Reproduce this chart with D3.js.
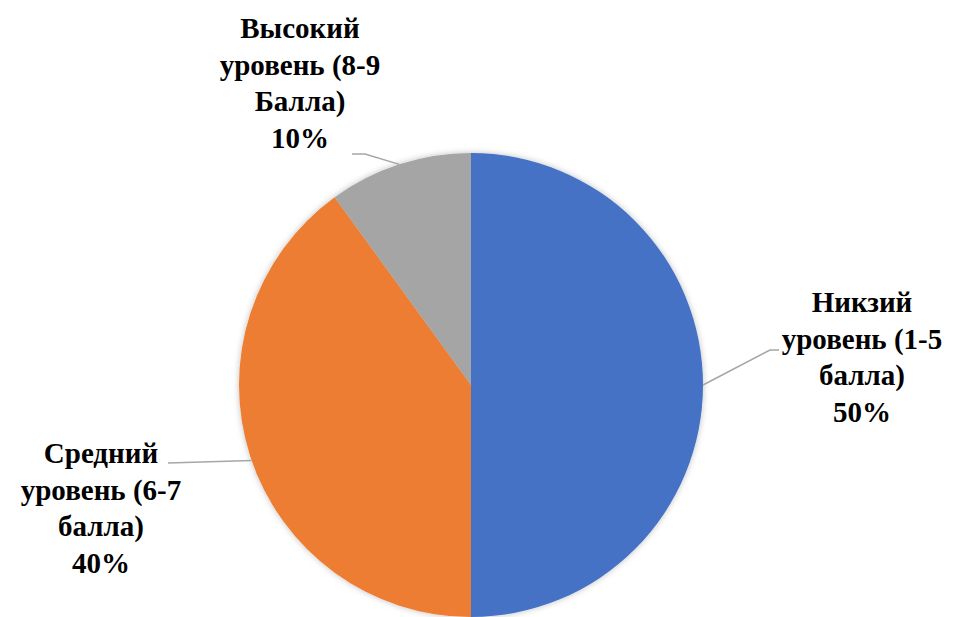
<!DOCTYPE html>
<html><head><meta charset="utf-8"></head><body style="margin:0">
<svg id="pie_chart" width="965" height="617"></svg>
<script src="https://cdn.jsdelivr.net/npm/d3@7"></script>
<script>

var sliceNames = ["Никзий уровень (1-5 балла)", "Средний уровень (6-7 балла)", "Высокий уровень (8-9 Балла)"];
var shares     = [50, 40, 10];
var labelRows  = [
  ["Никзий", "уровень (1-5", "балла)", "50%"],
  ["Средний", "уровень (6-7", "балла)", "40%"],
  ["Высокий", "уровень (8-9", "Балла)", "10%"]
];
var sliceColors = ["#4472c4", "#ed7d31", "#a5a5a5"];

var svg = d3.select("#pie_chart");
var cx = 471, cy = 385, r = 232;

// label placement (layout only): center x, first baseline, leader angle and elbow
var layout = [
  {x: 862, y: 312, ang: null, elbow: [770, 350], end: [779, 350]},
  {x: 101, y: 463, ang: 251 * Math.PI / 180, elbow: null, end: [168, 463]},
  {x: 300, y: 38,  ang: null, elbow: [365, 154], end: [352, 154]}
];
var lineH = 36.5;

// labels first
labelRows.forEach(function(rows, i){
  var L = layout[i];
  rows.forEach(function(s, k){
    svg.append("text")
      .attr("x", L.x)
      .attr("y", L.y + k * lineH)
      .attr("font-family", "'Liberation Serif'")
      .attr("font-weight", "bold")
      .attr("font-size", "29px")
      .attr("text-anchor", "middle")
      .text(s);
  });
});

var defs = svg.append("defs");
var f = defs.append("filter").attr("id", "shadow");
f.append("feDropShadow").attr("dx", 0).attr("dy", 0)
  .attr("stdDeviation", 3).attr("flood-opacity", 0.25);

var arcs = d3.pie().sort(null).value(function(d){ return d; })(shares);
var arc = d3.arc().innerRadius(0).outerRadius(r);

svg.append("g")
  .attr("transform", "translate(" + cx + "," + cy + ")")
  .attr("filter", "url(#shadow)")
  .selectAll("path")
  .data(arcs)
  .enter()
  .append("path")
  .attr("d", arc)
  .attr("fill", function(d, i){ return sliceColors[i]; });

arcs.forEach(function(a, i){
  var L = layout[i];
  var t = L.ang !== null ? L.ang : (a.startAngle + a.endAngle) / 2;
  var pts = [[cx + r * Math.sin(t), cy - r * Math.cos(t)]];
  if (L.elbow) pts.push(L.elbow);
  pts.push(L.end);
  svg.append("path")
    .attr("fill", "none")
    .attr("stroke", "#a6a6a6")
    .attr("stroke-width", 1.5)
    .attr("d", d3.line()(pts));
});

</script></body></html>
